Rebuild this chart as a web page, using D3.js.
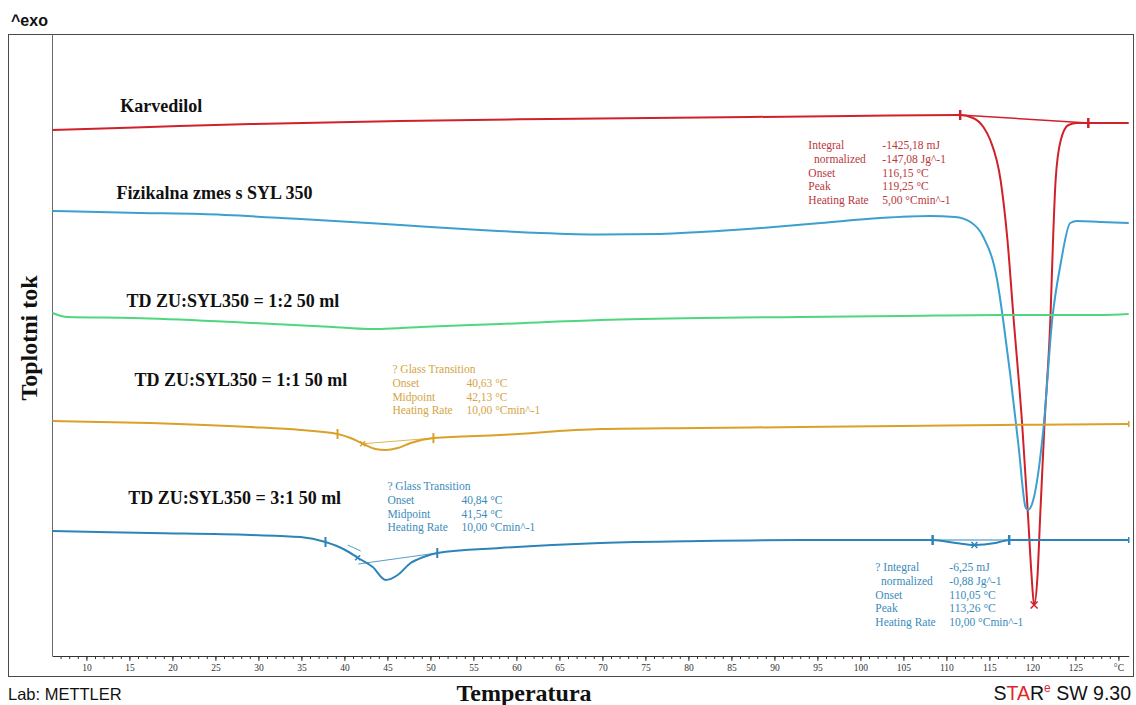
<!DOCTYPE html>
<html>
<head>
<meta charset="utf-8">
<script src="https://cdn.jsdelivr.net/npm/d3@7"></script>
<style>
  html, body { margin: 0; padding: 0; background: #ffffff; }
  svg { display: block; }
  text { white-space: pre; }
</style>
</head>
<body>
<svg id="chart" width="1136" height="705"></svg>
<script>
// ---- DSC thermograms: temperature (°C) vs. heat flow (offset units, exo up) ----

// Karvedilol (pure drug), 5 K/min
const karvedilolT  = [6.05, 17.4, 29.1, 46.5, 64.0, 81.4, 98.8, 111.6, 113.1, 114.3, 115.1, 116.3, 117.1, 117.8, 118.8, 119.5, 119.9, 120.2, 120.6, 120.9, 121.4, 122.1, 122.4, 122.7, 123.3, 124.2, 125.2, 126.5, 131.2];
const karvedilolHF = [52.6, 52.9, 53.2, 53.5, 53.7, 53.85, 54.0, 54.1, 53.8, 52.9, 51.6, 47.6, 41.6, 33.9, 23.3, 13.9, 8.1, 5.1, 8.1, 13.9, 23.1, 33.9, 41.6, 47.6, 51.6, 53.1, 53.3, 53.3, 53.3];

// Physical mixture with SYL 350
const fizikalnaT  = [6.05, 16.3, 23.3, 34.9, 46.5, 55.8, 62.8, 69.8, 76.7, 81.4, 88.4, 95.4, 102.3, 108.1, 111.0, 112.8, 114.3, 115.9, 116.6, 117.4, 118.4, 119.2, 119.5, 120.1, 121.3, 122.3, 123.3, 124.4, 125.2, 127.9, 131.2];
const fizikalnaHF = [44.5, 44.3, 44.2, 43.7, 43.1, 42.6, 42.3, 42.15, 42.2, 42.4, 42.8, 43.3, 43.8, 44.0, 43.9, 43.4, 41.9, 37.6, 33.6, 28.3, 20.9, 14.9, 14.6, 15.6, 22.9, 33.6, 39.3, 43.3, 43.5, 43.4, 43.3];

// Solid dispersion ZU:SYL350 = 1:2
const td12T  = [6.05, 7.8, 15.5, 27.1, 38.7, 42.7, 44.2, 48.8, 58.1, 69.8, 81.4, 93.0, 104.7, 116.3, 127.9, 131.2];
const td12HF = [34.3, 33.9, 33.8, 33.4, 32.9, 32.7, 32.7, 32.9, 33.2, 33.6, 33.8, 33.9, 34.0, 34.1, 34.1, 34.2];

// Solid dispersion ZU:SYL350 = 1:1
const td11T  = [6.05, 17.4, 29.1, 34.9, 39.2, 40.7, 42.2, 43.6, 44.8, 46.2, 47.7, 50.4, 58.1, 69.8, 81.4, 93.0, 104.7, 116.3, 131.2];
const td11HF = [23.5, 23.3, 22.9, 22.6, 22.2, 21.8, 21.2, 20.7, 20.6, 20.8, 21.3, 21.8, 22.1, 22.7, 22.8, 22.9, 23.0, 23.1, 23.2];

// Solid dispersion ZU:SYL350 = 3:1
const td31T  = [6.05, 17.4, 29.1, 34.9, 37.8, 40.1, 41.6, 43.3, 44.8, 46.2, 47.7, 49.2, 50.8, 58.1, 69.8, 81.4, 93.0, 104.7, 108.4, 111.1, 113.26, 115.7, 117.3, 131.2];
const td31HF = [12.5, 12.3, 12.1, 11.9, 11.4, 10.6, 9.8, 8.9, 7.6, 8.1, 9.3, 9.9, 10.3, 10.8, 11.3, 11.5, 11.6, 11.6, 11.6, 11.3, 11.1, 11.3, 11.6, 11.6];

const curveNames = ["Karvedilol", "Fizikalna zmes s SYL 350", "TD ZU:SYL350 = 1:2 50 ml", "TD ZU:SYL350 = 1:1 50 ml", "TD ZU:SYL350 = 3:1 50 ml"];

// Evaluation limits / characteristic temperatures (°C)
const karvedilolLimits = [111.6, 126.5];
const td11Limits = [39.2, 50.35];
const td11Midpoint = 42.13;
const td31Limits = [37.8, 50.8];
const td31Midpoint = 41.54;
const td31IntLimits = [108.4, 117.3];
const td31IntPeak = 113.26;
// Glass-transition construction lines for the 3:1 curve: [T, HF] pairs
const td31Tangent = [[40.4, 11.1], [41.9, 10.5]];
const td31Baseline = [[41.6, 9.2], [50.8, 10.3]];

// Evaluation result tables
const karvedilolEvalKeys = ["Integral", "  normalized", "Onset", "Peak", "Heating Rate"];
const karvedilolEvalVals = ["-1425,18 mJ", "-147,08 Jg^-1", "116,15 °C", "119,25 °C", "5,00 °Cmin^-1"];
const td11GlassKeys = ["? Glass Transition", "Onset", "Midpoint", "Heating Rate"];
const td11GlassVals = ["", "40,63 °C", "42,13 °C", "10,00 °Cmin^-1"];
const td31GlassKeys = ["? Glass Transition", "Onset", "Midpoint", "Heating Rate"];
const td31GlassVals = ["", "40,84 °C", "41,54 °C", "10,00 °Cmin^-1"];
const td31IntKeys = ["? Integral", "  normalized", "Onset", "Peak", "Heating Rate"];
const td31IntVals = ["-6,25 mJ", "-0,88 Jg^-1", "110,05 °C", "113,26 °C", "10,00 °Cmin^-1"];

// Axis ticks
const tempMinorTicks = [7,8,9,10,11,12,13,14,15,16,17,18,19,20,21,22,23,24,25,26,27,28,29,30,31,32,33,34,35,36,37,38,39,40,41,42,43,44,45,46,47,48,49,50,51,52,53,54,55,56,57,58,59,60,61,62,63,64,65,66,67,68,69,70,71,72,73,74,75,76,77,78,79,80,81,82,83,84,85,86,87,88,89,90,91,92,93,94,95,96,97,98,99,100,101,102,103,104,105,106,107,108,109,110,111,112,113,114,115,116,117,118,119,120,121,122,123,124,125,126,127,128,129,130];
const tempMajorTicks = [10, 15, 20, 25, 30, 35, 40, 45, 50, 55, 60, 65, 70, 75, 80, 85, 90, 95, 100, 105, 110, 115, 120, 125, 130];
const tempMajorLabels = ["10", "15", "20", "25", "30", "35", "40", "45", "50", "55", "60", "65", "70", "75", "80", "85", "90", "95", "100", "105", "110", "115", "120", "125", "°C"];

// ---- styling / layout ----
const COL = {
  karvedilol: "#d0212a", karvedilolText: "#b9383d",
  fizikalna: "#3b9fd0",
  td12: "#4fd67e",
  td11: "#d9a12a", td11Text: "#d3a544",
  td31: "#2c84b9", td31Text: "#3a8bbb",
  frame: "#4a4a4a", axis: "#333333"
};
const SERIF = "'Liberation Serif', 'Times New Roman', serif";
const SANS = "'Liberation Sans', Arial, sans-serif";

const svg = d3.select("#chart");

const x = d3.scaleLinear().domain([6, 131.2]).range([52, 52 + 125.2 * 8.6]);
const y = d3.scaleLinear().domain([0, 62.2]).range([656, 34]);

const line = d3.line().x(d => x(d[0])).y(d => y(d[1])).curve(d3.curveMonotoneX);
const straight = d3.line().x(d => x(d[0])).y(d => y(d[1]));
const zipSeries = (T, V) => T.map((t, i) => [t, V[i]]);
function valueAt(T, V, t) {
  const i = Math.max(1, Math.min(T.length - 1, d3.bisectLeft(T, t)));
  const f = (t - T[i - 1]) / (T[i] - T[i - 1]);
  return V[i - 1] + f * (V[i] - V[i - 1]);
}

// ---- frame ----
svg.append("rect").attr("x", 8.5).attr("y", 34.5).attr("width", 1125).attr("height", 642)
  .attr("fill", "none").attr("stroke", COL.frame).attr("stroke-width", 1);
svg.append("line").attr("x1", 52.5).attr("x2", 52.5).attr("y1", 34.5).attr("y2", 656)
  .attr("stroke", "#6a6a6a").attr("stroke-width", 1);

// ---- temperature axis ----
const axisG = svg.append("g").attr("transform", `translate(0,${y(0)})`);
axisG.append("g")
  .call(d3.axisBottom(x).tickValues(tempMinorTicks).tickSize(3).tickSizeOuter(0).tickFormat(""))
  .call(g => g.select(".domain").attr("stroke", COL.axis))
  .call(g => g.selectAll(".tick line").attr("stroke", COL.axis));
axisG.append("g")
  .call(d3.axisBottom(x).tickValues(tempMajorTicks).tickSize(5).tickSizeOuter(0).tickPadding(3)
    .tickFormat((d, i) => tempMajorLabels[i]))
  .call(g => g.select(".domain").remove())
  .call(g => g.selectAll(".tick line").attr("stroke", COL.axis))
  .call(g => g.selectAll(".tick text").attr("font-family", SERIF).attr("font-size", 9.5).attr("fill", "#333"));

// ---- curves ----
const curves = [
  { T: karvedilolT, V: karvedilolHF, color: COL.karvedilol },
  { T: fizikalnaT, V: fizikalnaHF, color: COL.fizikalna },
  { T: td12T, V: td12HF, color: COL.td12 },
  { T: td11T, V: td11HF, color: COL.td11 },
  { T: td31T, V: td31HF, color: COL.td31 }
];
const plotG = svg.append("g");
curves.forEach(c => {
  plotG.append("path").attr("d", line(zipSeries(c.T, c.V)))
    .attr("fill", "none").attr("stroke", c.color).attr("stroke-width", 2)
    .attr("stroke-linejoin", "round");
});

// ---- evaluation markers ----
function limitMark(T, V, t, color, w) {
  const cx = x(t), cy = y(valueAt(T, V, t));
  plotG.append("line").attr("x1", cx).attr("x2", cx).attr("y1", cy - 5).attr("y2", cy + 5)
    .attr("stroke", color).attr("stroke-width", w || 2);
}
function crossMark(T, V, t, color, s) {
  const cx = x(t), cy = y(valueAt(T, V, t));
  plotG.append("path")
    .attr("d", `M${cx - s},${cy - s}L${cx + s},${cy + s}M${cx - s},${cy + s}L${cx + s},${cy - s}`)
    .attr("stroke", color).attr("stroke-width", 1.5);
}
function chord(T, V, t0, t1, color, w) {
  plotG.append("path")
    .attr("d", straight([[t0, valueAt(T, V, t0)], [t1, valueAt(T, V, t1)]]))
    .attr("stroke", color).attr("stroke-width", w).attr("fill", "none");
}

// Karvedilol melting peak
chord(karvedilolT, karvedilolHF, karvedilolLimits[0], karvedilolLimits[1], COL.karvedilol, 1.5);
karvedilolLimits.forEach(t => limitMark(karvedilolT, karvedilolHF, t, COL.karvedilol, 2.5));
crossMark(karvedilolT, karvedilolHF, karvedilolT[d3.minIndex(karvedilolHF)], COL.karvedilol, 3.5);

// 1:1 glass transition
chord(td11T, td11HF, td11Midpoint, td11Limits[1], COL.td11, 0.8);
td11Limits.forEach(t => limitMark(td11T, td11HF, t, COL.td11, 2));
crossMark(td11T, td11HF, td11Midpoint, COL.td11, 2.5);

// 3:1 glass transition
plotG.append("path").attr("d", straight(td31Tangent)).attr("stroke", COL.td31).attr("stroke-width", 0.8).attr("fill", "none");
plotG.append("path").attr("d", straight(td31Baseline)).attr("stroke", COL.td31).attr("stroke-width", 0.8).attr("fill", "none");
td31Limits.forEach(t => limitMark(td31T, td31HF, t, COL.td31, 2));
crossMark(td31T, td31HF, td31Midpoint, COL.td31, 2.5);

// 3:1 small endotherm
chord(td31T, td31HF, td31IntLimits[0], td31IntLimits[1], COL.td31, 1);
td31IntLimits.forEach(t => limitMark(td31T, td31HF, t, COL.td31, 2.5));
crossMark(td31T, td31HF, td31IntPeak, COL.td31, 3);

// end-of-run ticks
[[td11T, td11HF, COL.td11], [td31T, td31HF, COL.td31]].forEach(([T, V, c]) => {
  const t = T[T.length - 1];
  const cx = x(t), cy = y(V[V.length - 1]);
  plotG.append("line").attr("x1", cx).attr("x2", cx).attr("y1", cy - 3).attr("y2", cy + 3)
    .attr("stroke", c).attr("stroke-width", 1.5);
});

// ---- curve names ----
const nameAnchors = [[13.95, 54.4], [13.49, 45.7], [14.65, 34.9], [15.58, 27.0], [14.88, 15.2]];
curveNames.forEach((name, i) => {
  svg.append("text").attr("x", x(nameAnchors[i][0])).attr("y", y(nameAnchors[i][1]))
    .attr("font-family", SERIF).attr("font-weight", "bold").attr("font-size", 18)
    .attr("fill", "#111").text(name);
});

// ---- evaluation tables ----
function table(anchor, keys, vals, color) {
  const g = svg.append("g").attr("font-family", SERIF).attr("font-size", 11.5).attr("fill", color);
  keys.forEach((k, i) => {
    const ty = y(anchor[1]) + i * 13.8;
    g.append("text").attr("x", x(anchor[0])).attr("y", ty).text(k);
    if (vals[i]) g.append("text").attr("x", x(anchor[0]) + 74).attr("y", ty).text(vals[i]);
  });
}
table([93.95, 50.7], karvedilolEvalKeys, karvedilolEvalVals, COL.karvedilolText);
table([45.58, 28.3], td11GlassKeys, td11GlassVals, COL.td11Text);
table([45.0, 16.6], td31GlassKeys, td31GlassVals, COL.td31Text);
table([101.74, 8.5], td31IntKeys, td31IntVals, COL.td31Text);

// ---- titles ----
svg.append("text").attr("x", 11).attr("y", 26)
  .attr("font-family", SANS).attr("font-weight", "bold").attr("font-size", 16).attr("fill", "#111")
  .text("^exo");

svg.append("text").attr("transform", "translate(37,338) rotate(-90)")
  .attr("text-anchor", "middle").attr("font-family", SERIF).attr("font-weight", "bold")
  .attr("font-size", 24).attr("fill", "#111").text("Toplotni tok");

svg.append("text").attr("x", 524).attr("y", 701).attr("text-anchor", "middle")
  .attr("font-family", SERIF).attr("font-weight", "bold").attr("font-size", 24).attr("fill", "#111")
  .text("Temperatura");

svg.append("text").attr("x", 8).attr("y", 700)
  .attr("font-family", SANS).attr("font-size", 16.5).attr("fill", "#111")
  .text("Lab: METTLER");

const star = svg.append("text").attr("x", 1131).attr("y", 700).attr("text-anchor", "end")
  .attr("font-family", SANS).attr("font-size", 19.5).attr("fill", "#111");
star.append("tspan").text("S");
star.append("tspan").attr("fill", "#e0262b").text("TA");
star.append("tspan").text("R");
star.append("tspan").attr("fill", "#e0262b").attr("font-size", 12).attr("dy", -8).text("e");
star.append("tspan").attr("dy", 8).text(" SW 9.30");
</script>
</body>
</html>
